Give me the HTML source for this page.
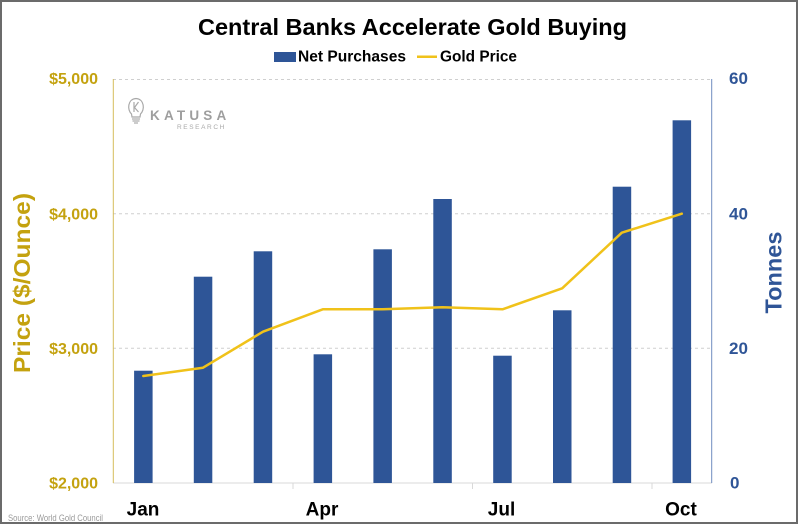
<!DOCTYPE html>
<html>
<head>
<meta charset="utf-8">
<style>
  html,body{margin:0;padding:0;background:#fff;}
  svg{display:block;}
  text{font-family:"Liberation Sans",Arial,sans-serif;}
</style>
</head>
<body>
<svg width="800" height="525" viewBox="0 0 800 525" xmlns="http://www.w3.org/2000/svg">
  <rect x="0" y="0" width="800" height="525" fill="#fff"/>
  <rect x="1" y="1" width="796" height="522" fill="none" stroke="#6b6b6b" stroke-width="2"/>

  <!-- Title -->
  <text x="198" y="35" font-size="23" font-weight="bold" fill="#000" textLength="429" lengthAdjust="spacingAndGlyphs">Central Banks Accelerate Gold Buying</text>

  <!-- Legend -->
  <rect x="274" y="52" width="22" height="10" fill="#2E5597"/>
  <text x="298" y="61.7" font-size="15.5" font-weight="bold" fill="#000" textLength="108" lengthAdjust="spacingAndGlyphs">Net Purchases</text>
  <line x1="417" y1="56.7" x2="437" y2="56.7" stroke="#F0C21A" stroke-width="2.5"/>
  <text x="440" y="61.7" font-size="15.5" font-weight="bold" fill="#000" textLength="77" lengthAdjust="spacingAndGlyphs">Gold Price</text>

  <!-- Gridlines -->
  <g stroke="#cfcfcf" stroke-width="1" stroke-dasharray="3,3">
    <line x1="113" y1="79.5" x2="712" y2="79.5"/>
    <line x1="113" y1="213.8" x2="712" y2="213.8"/>
    <line x1="113" y1="348.3" x2="712" y2="348.3"/>
  </g>
  <!-- bottom axis -->
  <line x1="113" y1="483" x2="712" y2="483" stroke="#d9d9d9" stroke-width="1"/>
  <g stroke="#d9d9d9" stroke-width="1">
    <line x1="293" y1="483" x2="293" y2="489"/>
    <line x1="472.5" y1="483" x2="472.5" y2="489"/>
    <line x1="652" y1="483" x2="652" y2="489"/>
  </g>
  <!-- left & right axes -->
  <line x1="113.3" y1="79" x2="113.3" y2="483" stroke="#D6BC5C" stroke-width="1"/>
  <line x1="711.7" y1="79" x2="711.7" y2="483" stroke="#6F8CBF" stroke-width="1"/>

  <!-- Logo -->
  <g fill="none" stroke="#a9a9a9" stroke-width="1.2">
    <path d="M131.5 114 C127 110 127.5 99 136 98.5 C144.5 99 145 110 140.5 114 L140 117 L132 117 Z"/>
    <line x1="132" y1="119" x2="140" y2="119"/>
    <line x1="132.5" y1="121" x2="139.5" y2="121"/>
    <line x1="134" y1="123" x2="138" y2="123"/>
    <path d="M134 102 L134 112 M138.5 102 L134.5 107.5 L138.5 112"/>
  </g>
  <text x="150" y="120" font-size="13.5" font-weight="bold" fill="#9e9e9e" letter-spacing="4.2">KATUSA</text>
  <text x="177" y="129" font-size="6.5" fill="#a9a9a9" letter-spacing="1.6">RESEARCH</text>

  <!-- Bars -->
  <g fill="#2E5597">
    <rect x="134.1" y="370.7" width="18.5" height="112.3"/>
    <rect x="193.8" y="276.7" width="18.5" height="206.3"/>
    <rect x="253.7" y="251.3" width="18.5" height="231.7"/>
    <rect x="313.6" y="354.3" width="18.5" height="128.7"/>
    <rect x="373.4" y="249.3" width="18.5" height="233.7"/>
    <rect x="433.3" y="199" width="18.5" height="284"/>
    <rect x="493.2" y="355.7" width="18.5" height="127.3"/>
    <rect x="553" y="310.3" width="18.5" height="172.7"/>
    <rect x="612.7" y="186.7" width="18.5" height="296.3"/>
    <rect x="672.6" y="120.3" width="18.5" height="362.7"/>
  </g>

  <!-- Gold price line -->
  <polyline fill="none" stroke="#F0C21A" stroke-width="2.5" stroke-linejoin="round" stroke-linecap="round"
    points="143.3,376 203,367.7 263,331.7 322.8,309.3 382.7,309.3 442.5,307.3 502.5,309.3 562.2,288.3 621.8,232.7 681.8,213.7"/>

  <!-- Left tick labels -->
  <g font-size="16" font-weight="bold" fill="#C4A20F" text-anchor="end">
    <text x="98" y="84">$5,000</text>
    <text x="98" y="219.5">$4,000</text>
    <text x="98" y="354">$3,000</text>
    <text x="98" y="488.5">$2,000</text>
  </g>
  <!-- Right tick labels -->
  <g font-size="17" font-weight="bold" fill="#2F5597">
    <text x="729" y="84">60</text>
    <text x="729" y="219.5">40</text>
    <text x="729" y="354">20</text>
    <text x="730" y="488.5">0</text>
  </g>

  <!-- Axis titles -->
  <text transform="translate(30,283) rotate(-90)" text-anchor="middle" font-size="23.5" font-weight="bold" fill="#C4A20F" textLength="180" lengthAdjust="spacingAndGlyphs">Price ($/Ounce)</text>
  <text transform="translate(781.5,272.5) rotate(-90)" text-anchor="middle" font-size="23" font-weight="bold" fill="#2F5597" textLength="82" lengthAdjust="spacingAndGlyphs">Tonnes</text>

  <!-- X labels -->
  <g font-size="19" font-weight="bold" fill="#000" text-anchor="middle">
    <text x="143" y="515.7">Jan</text>
    <text x="322" y="515.7">Apr</text>
    <text x="501.5" y="515.7">Jul</text>
    <text x="681" y="515.7">Oct</text>
  </g>

  <!-- Source -->
  <text x="8" y="521" font-size="9" fill="#9a9a9a" textLength="95" lengthAdjust="spacingAndGlyphs">Source: World Gold Council</text>
</svg>
</body>
</html>
